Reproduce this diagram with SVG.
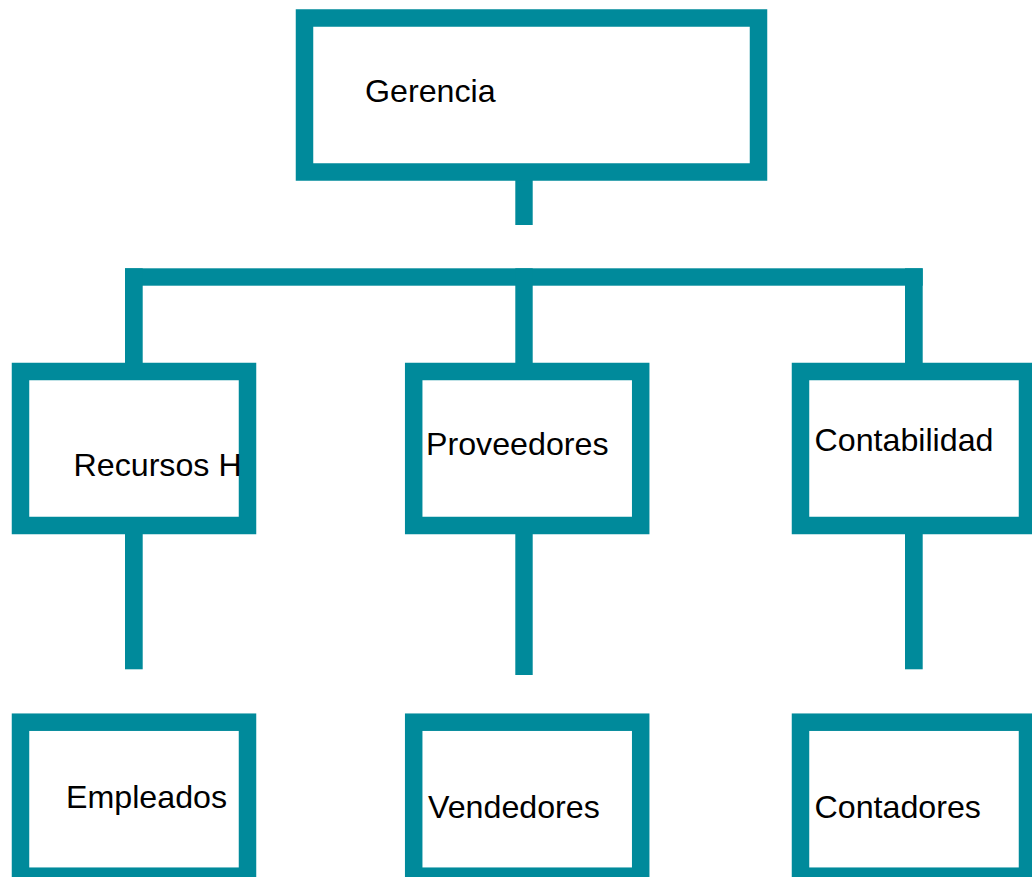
<svg xmlns="http://www.w3.org/2000/svg" width="1032" height="877" viewBox="0 0 1032 877">
<style>
.box{fill:#ffffff;stroke:#008A9B;stroke-width:17.5}
.ln{fill:#008A9B}
.t{font-family:"Liberation Sans",Arial,sans-serif;font-size:32.2px;fill:#000000}
</style>
<rect width="1032" height="877" fill="#ffffff"/>
<g id="connectors">
<rect class="ln" x="515.3" y="180" width="17.4" height="45"/>
<rect class="ln" x="125" y="268.3" width="797.7" height="17.4"/>
<rect class="ln" x="125" y="268.3" width="17.7" height="96"/>
<rect class="ln" x="515.3" y="268.3" width="17.4" height="96"/>
<rect class="ln" x="905" y="268.3" width="17.7" height="96"/>
<rect class="ln" x="125" y="533" width="17.7" height="136.3"/>
<rect class="ln" x="515.3" y="533" width="17.4" height="142"/>
<rect class="ln" x="905" y="533" width="17.7" height="136.3"/>
</g>
<g id="gerencia">
<rect class="box" x="304.5" y="18" width="454" height="154"/>
<text class="t" x="365" y="102.2">Gerencia</text>
</g>
<g id="recursos">
<rect class="box" x="20.5" y="371.5" width="227" height="154"/>
<text class="t" x="73.5" y="476">Recursos H</text>
</g>
<g id="proveedores">
<rect class="box" x="413.7" y="371.5" width="227" height="154"/>
<text class="t" x="426" y="455.3">Proveedores</text>
</g>
<g id="contabilidad">
<rect class="box" x="800.5" y="371.5" width="227" height="154"/>
<text class="t" x="814.5" y="450.5">Contabilidad</text>
</g>
<g id="empleados">
<rect class="box" x="20.5" y="722.2" width="227" height="154"/>
<text class="t" x="66" y="807.6">Empleados</text>
</g>
<g id="vendedores">
<rect class="box" x="413.7" y="722.2" width="227" height="154"/>
<text class="t" x="428" y="817.6">Vendedores</text>
</g>
<g id="contadores">
<rect class="box" x="800.5" y="722.2" width="227" height="154"/>
<text class="t" x="814.5" y="817.6">Contadores</text>
</g>
</svg>
